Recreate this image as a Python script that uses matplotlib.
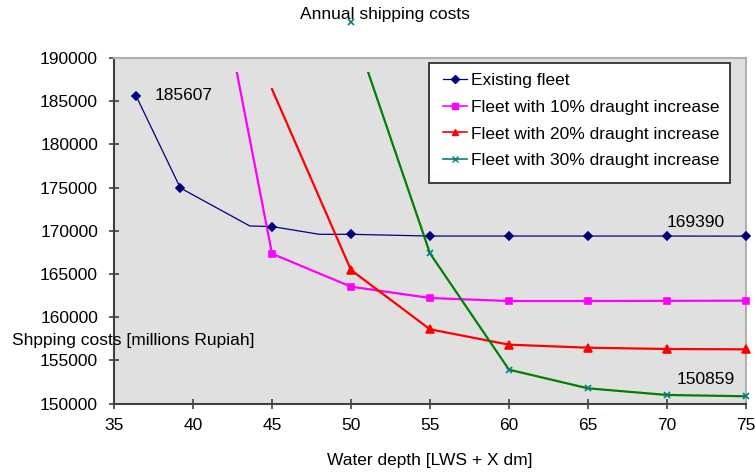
import matplotlib
matplotlib.use("Agg")
import matplotlib.pyplot as plt
from matplotlib.patches import Rectangle
from matplotlib.lines import Line2D

plt.rcParams['font.family'] = ['Liberation Sans', 'DejaVu Sans']
plt.rcParams['font.size'] = 12.5

# water depth [LWS + X dm] and annual shipping costs [millions Rupiah]
existing_x = [36.4, 39.2, 43.6, 45, 48, 50, 55, 60, 65, 70, 75]
existing_y = [185607, 174960, 170560, 170500, 169600, 169600, 169400, 169400, 169400, 169400, 169390]

inc10_x = [40, 45, 50, 55, 60, 65, 70, 75]
inc10_y = [214500, 167360, 163540, 162230, 161880, 161880, 161900, 161920]

inc20_x = [45, 50, 55, 60, 65, 70, 75]
inc20_y = [186400, 165470, 158610, 156830, 156480, 156330, 156290]

inc30_x = [50, 55, 60, 65, 70, 75]
inc30_y = [194170, 167400, 153940, 151780, 151010, 150859]

labels = ["Existing fleet",
          "Fleet with 10% draught increase",
          "Fleet with 20% draught increase",
          "Fleet with 30% draught increase"]

x_ticks = list(range(35, 80, 5))
y_ticks = list(range(150000, 195000, 5000))

fig = plt.figure(figsize=(7.55, 4.72), dpi=100)
ax = fig.add_axes([0.151, 0.1447, 0.837, 0.7324])
ax.set_facecolor('#e0e0e0')
ax.set_xlim(35, 75)
ax.set_ylim(150000, 190000)

# lines get cut a little below the top of the plot area, markers are not clipped
clip = Rectangle((35, 150000), 40, 38400, transform=ax.transData)

series = [
    (existing_x, existing_y, '#000080', 0.9, 'D', 4, '#000080', [0, 1, 3, 5, 6, 7, 8, 9, 10]),
    (inc10_x, inc10_y, '#ff00ff', 1.6, 's', 5, '#ff00ff', None),
    (inc20_x, inc20_y, '#ff0000', 1.6, '^', 5.5, '#ff0000', list(range(1, 7))),
    (inc30_x, inc30_y, '#008000', 1.6, 'x', 5, '#008080', None),
]
for xs, ys, col, lw, mk, ms, mcol, every in series:
    ln, = ax.plot(xs, ys, color=col, lw=lw, zorder=3)
    ln.set_clip_path(clip)
    mx = xs if every is None else [xs[i] for i in every]
    my = ys if every is None else [ys[i] for i in every]
    ax.plot(mx, my, ls='none', marker=mk, ms=ms, color=mcol, mew=1.2,
            clip_on=False, zorder=4)

ax.annotate(str(existing_y[0]), (existing_x[0], existing_y[0]),
            xytext=(13, 0), textcoords='offset points', ha='left', va='center')
ax.annotate(str(existing_y[-1]), (existing_x[-1], existing_y[-1]),
            xytext=(-36.5, 10), textcoords='offset points', ha='center', va='center')
ax.annotate(str(inc30_y[-1]), (inc30_x[-1], inc30_y[-1]),
            xytext=(-29, 12), textcoords='offset points', ha='center', va='center')

ax.set_xticks(x_ticks)
ax.set_yticks(y_ticks)
ax.tick_params(axis='both', direction='inout', length=7, width=1.2, color='#404040')
ax.tick_params(axis='y', pad=8)
ax.tick_params(axis='x', pad=6.5)

for side in ['left', 'bottom']:
    ax.spines[side].set_color('#404040')
    ax.spines[side].set_linewidth(1.5)
for side in ['top', 'right']:
    ax.spines[side].set_color('#b0b0b0')
    ax.spines[side].set_linewidth(1.5)

# legend box drawn by hand so it can be taller than the entries
box = Rectangle((0.498, 0.6384), 0.4767, 0.3471, transform=ax.transAxes,
                facecolor='white', edgecolor='#202020', lw=1.2, zorder=5)
ax.add_patch(box)

handles = [
    Line2D([], [], color='#000080', lw=0.9, marker='D', ms=4),
    Line2D([], [], color='#ff00ff', lw=1.2, marker='s', ms=5),
    Line2D([], [], color='#ff0000', lw=1.2, marker='^', ms=5),
    Line2D([], [], color='#008080', lw=1.2, marker='x', ms=5),
]
leg = ax.legend(handles, labels, loc='upper left', bbox_to_anchor=(0.508, 0.9798),
                frameon=False, handlelength=1.4, handletextpad=0.25,
                labelspacing=0.67, borderpad=0.45, borderaxespad=0)
leg.set_zorder(6)

fig.text(385 / 755, 1 - 14 / 472, "Annual shipping costs", ha='center', va='center')
fig.text(430 / 755, 1 - 460 / 472, "Water depth [LWS + X dm]", ha='center', va='center')
fig.text(12 / 755, 1 - 340 / 472, "Shpping costs [millions Rupiah]", ha='left', va='center',
         zorder=6)

fig.savefig("out.png", dpi=100)
